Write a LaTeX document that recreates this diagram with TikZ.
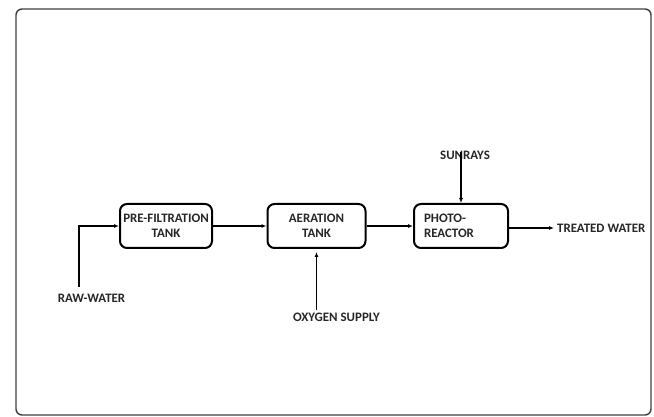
\documentclass[tikz,border=0pt]{standalone}
\usepackage{fontspec}
\setmainfont{Carlito}
\usetikzlibrary{arrows.meta,calc}
\begin{document}
\begin{tikzpicture}[x=1pt,y=-1pt,
  lbl/.style={font=\fontsize{12.9}{15}\selectfont\bfseries, text=black!85, inner sep=0pt},
  tank/.style={draw=black, line width=2pt, rounded corners=7pt, minimum height=44pt, inner sep=2pt,
     font=\fontsize{12.9}{15}\selectfont\bfseries, text=black!85},
  flow/.style={draw=black, line width=1.2pt, -{Latex[length=5pt,width=4pt]}}]
\useasboundingbox (0,0) rectangle (654,417);
\draw[line width=1.4pt, draw=black!75, rounded corners=6pt] (16,9) rectangle (651,415);
% tanks
\node[tank, minimum width=92pt, align=center] (pf) at (166,226) {PRE-FILTRATION\\TANK};
\node[tank, minimum width=98pt, text width=64pt, align=center] (ae) at (316.5,226) {AERATION\\TANK};
\node[tank, minimum width=94pt, text width=74pt, align=left] (pr) at (461,226) {PHOTO-\\REACTOR};
% labels
\node[lbl] (raw) at (91.5,298) {RAW-WATER};
\node[lbl] (oxy) at (336.5,317) {OXYGEN SUPPLY};
\node[lbl] (sun) at (465,155) {SUNRAYS};
\node[lbl, anchor=west] (tw) at (557,228) {TREATED WATER};
\coordinate (rw0) at (79,287);
\coordinate (ox0) at (316.5,310);
\coordinate (su0) at (461,152);
% connectors
\draw[flow] (rw0) |- (pf.west);
\draw[flow] (pf.east) -- (ae.west);
\draw[flow] (ae.east) -- (pr.west);
\draw[flow, shorten >=3pt] (pr.east |- tw.west) -- (tw.west);
\draw[flow, shorten >=3pt] (ox0) -- (ae.south);
\draw[flow] (su0) -- (pr.north);
\end{tikzpicture}
\end{document}
